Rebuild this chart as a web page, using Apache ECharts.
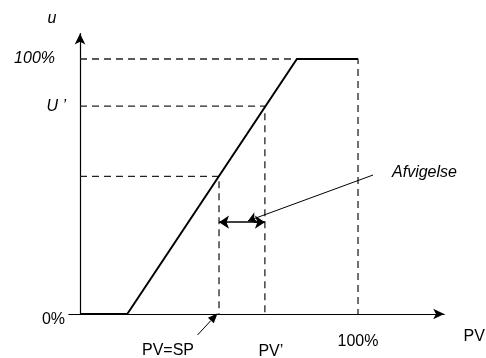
<!DOCTYPE html>
<html><head><meta charset="utf-8">
<script src="https://cdn.jsdelivr.net/npm/echarts@6/dist/echarts.min.js"></script>
<style>html,body{margin:0;padding:0;background:#fff}#c{width:486px;height:358px}</style>
</head><body><div id="c"></div>
<script>
// Controller characteristic: output u (%) vs process value PV (%)
const curvePV = [0, 17, 78, 100];
const curveU  = [0, 0, 100, 100];
// Reference points
const SP = 50, U_SP = 54;        // PV = SP
const PVp = 66.5, Up = 81.5;     // PV', U'
const PVmax = 100, Umax = 100;   // 100 %
// Deviation (Afvigelse) arrow level and label pointer
const devU = 36;
const devPointerFrom = [105.4, 54.5];
const devPointerTo = [60.4, 36.5];
// PV=SP pointer arrow
const spPointerFrom = [42.3, -8.2];
const spPointerTo = [49.5, 0.3];
// Texts
const yAxisName = 'u', xAxisName = 'PV';
const yTickTexts = ['0%', 'U \u2019', '100%'];
const xTickTexts = ['PV=SP', 'PV\u2019', '100%'];
const devText = 'Afvigelse';

const chart = echarts.init(document.getElementById('c'), null, {renderer: 'canvas'});
const FONT = 'Liberation Sans, Arial, sans-serif';
const dashed = {color: '#222', width: 1.3, type: [7, 5]};

function zip(a, b) { return a.map((v, i) => [v, b[i]]); }

chart.setOption({
  animation: false,
  backgroundColor: '#fff',
  grid: {left: 68.9, top: 33.5, width: 375.3, height: 280.5},
  xAxis: {
    type: 'value', min: -4, max: 131,
    axisLine: {onZero: true, symbol: ['none', 'arrow'], symbolSize: [8, 11], lineStyle: {color: '#000', width: 1.2}},
    axisTick: {show: false}, axisLabel: {show: false}, splitLine: {show: false}
  },
  yAxis: {
    type: 'value', min: 0, max: 110,
    axisLine: {show: true, onZero: true, symbol: ['none', 'arrow'], symbolSize: [8, 11], lineStyle: {color: '#000', width: 1.2}},
    axisTick: {show: false}, axisLabel: {show: false}, splitLine: {show: false}
  },
  series: [
    {type: 'line', data: [[0, Umax], [PVmax, Umax], [PVmax, 0]], symbol: 'none', lineStyle: dashed, silent: true},
    {type: 'line', data: [[0, Up], [PVp, Up], [PVp, 0]], symbol: 'none', lineStyle: dashed, silent: true},
    {type: 'line', data: [[0, U_SP], [SP, U_SP], [SP, 0]], symbol: 'none', lineStyle: dashed, silent: true},
    {type: 'line', data: zip(curvePV, curveU), symbol: 'none', lineStyle: {color: '#000', width: 2}, silent: true,
     markLine: {
       silent: true, animation: false, label: {show: false},
       data: [
         [{coord: [SP, devU], symbol: 'arrow', symbolSize: 10, lineStyle: {color: '#000', width: 1.6, type: 'solid'}},
          {coord: [PVp, devU], symbol: 'arrow', symbolSize: 10}],
         [{coord: devPointerFrom, symbol: 'none', lineStyle: {color: '#000', width: 1, type: 'solid'}},
          {coord: devPointerTo, symbol: 'arrow', symbolSize: 9}]
       ]
     }}
  ]
});

function P(x, y) { return chart.convertToPixel({gridIndex: 0}, [x, y]); }
function txt(p, dx, dy, s, align, italic) {
  return {type: 'text', x: p[0] + dx, y: p[1] + dy, silent: true,
    style: {text: s, fill: '#000', font: (italic ? 'italic ' : '') + '16px ' + FONT, textAlign: align, textVerticalAlign: 'middle'}};
}
const a0 = P(spPointerFrom[0], spPointerFrom[1]);
const a1 = P(spPointerTo[0], spPointerTo[1]);
const ang = Math.atan2(a1[1] - a0[1], a1[0] - a0[0]);
const L = 10, W = 4;
const bx = a1[0] - L * Math.cos(ang), by = a1[1] - L * Math.sin(ang);
const head = [
  [a1[0], a1[1]],
  [bx + W * Math.sin(ang), by - W * Math.cos(ang)],
  [bx - W * Math.sin(ang), by + W * Math.cos(ang)]
];
const yTop = P(0, 110), xEnd = P(131, 0);
chart.setOption({
  graphic: [
    {type: 'line', silent: true, shape: {x1: a0[0], y1: a0[1], x2: bx, y2: by}, style: {stroke: '#000', lineWidth: 1}},
    {type: 'polygon', silent: true, shape: {points: head}, style: {fill: '#000'}},
    txt(yTop, -28, -15, yAxisName, 'center', true),
    txt(P(0, 0), -15, 6, yTickTexts[0], 'right', false),
    txt(P(0, Up), -14, 0, yTickTexts[1], 'right', true),
    txt(P(0, Umax), -25, 0, yTickTexts[2], 'right', true),
    txt(P(SP, 0), -51, 37, xTickTexts[0], 'center', false),
    txt(P(PVp, 0), 6, 38, xTickTexts[1], 'center', false),
    txt(P(PVmax, 0), 0, 28, xTickTexts[2], 'center', false),
    txt(xEnd, 30, 23, xAxisName, 'center', false),
    txt(P(devPointerFrom[0], devPointerFrom[1]), 19, -2, devText, 'left', true)
  ]
});
</script></body></html>
